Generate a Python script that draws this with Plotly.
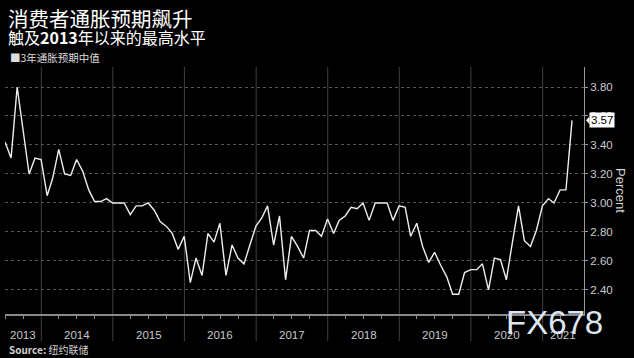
import pandas as pd
import plotly.graph_objects as go

# ---------------- data ----------------
start_month = "2013-06-30"   # first survey month (month-end)
expectations = [
    3.42, 3.31, 3.80, 3.51, 3.20, 3.31, 3.30,            # 2013 Jun-Dec
    3.05, 3.17, 3.37, 3.20, 3.19, 3.30, 3.22, 3.09, 3.01, 3.01, 3.03, 3.00,  # 2014
    3.00, 3.00, 2.92, 2.98, 2.98, 3.00, 2.95, 2.87, 2.84, 2.79, 2.68, 2.77,  # 2015
    2.45, 2.62, 2.50, 2.79, 2.73, 2.86, 2.50, 2.71, 2.62, 2.58, 2.71, 2.84,  # 2016
    2.90, 2.98, 2.71, 2.91, 2.47, 2.77, 2.70, 2.62, 2.81, 2.81, 2.77, 2.89,  # 2017
    2.79, 2.88, 2.91, 2.97, 2.96, 3.00, 2.88, 3.00, 3.00, 3.00, 2.88, 2.98,  # 2018
    2.97, 2.77, 2.86, 2.70, 2.59, 2.66, 2.57, 2.49, 2.37, 2.37, 2.52, 2.54,  # 2019
    2.54, 2.58, 2.40, 2.62, 2.61, 2.47, 2.73, 2.98, 2.74, 2.70, 2.81, 2.98,  # 2020
    3.03, 3.00, 3.09, 3.09, 3.57,                                            # 2021 Jan-May
]
years = [2013, 2014, 2015, 2016, 2017, 2018, 2019, 2020, 2021]
y_ticks = [2.40, 2.60, 2.80, 3.00, 3.20, 3.40, 3.60, 3.80]
last_label = "3.57"

title_1 = "消费者通胀预期飙升"
title_2 = "触及<b>2013</b>年以来的最高水平"
legend_text = "■3年通胀预期中值"
source_text = "<b>Source:</b> 纽约联储"
y_title = "Percent"
watermark = "FX678"

# ---------------- layout helpers ----------------
W, H = 634, 358
ML, MR, MT, MB = 5, 50, 67, 44
PW, PH = W - ML - MR, H - MT - MB

def px(xp):
    return (xp - ML) / PW

def py(yp):
    return (H - MB - yp) / PH

dates = pd.date_range(start_month, periods=len(expectations), freq="ME")
x_start = pd.Timestamp(start_month)
x_end = pd.Timestamp("2021-07-31")
y_range = [2.234, 3.938]

CJK = "Noto Sans CJK SC"
NUM = "Liberation Sans, Noto Sans CJK SC"

fig = go.Figure()
fig.add_trace(go.Scatter(
    x=dates, y=expectations, mode="lines",
    line=dict(color="#eeeeee", width=1.4),
    showlegend=False, hoverinfo="x+y",
))

shapes = []
annotations = []

# year separators
for yr in years[1:]:
    shapes.append(dict(type="line", xref="x", yref="paper",
                       x0=pd.Timestamp(f"{yr}-01-01"), x1=pd.Timestamp(f"{yr}-01-01"),
                       y0=py(341), y1=1, line=dict(color="#404040", width=1), layer="below"))

# year labels centred in visible part of each year
for yr in years:
    a = max(pd.Timestamp(f"{yr}-01-01"), x_start)
    b = min(pd.Timestamp(f"{yr + 1}-01-01"), x_end)
    mid = a + (b - a) / 2
    annotations.append(dict(xref="x", yref="paper", x=mid, y=py(335), text=str(yr),
                            showarrow=False, xanchor="center", yanchor="middle",
                            font=dict(family=NUM, size=11.5, color="#c8c8c8")))

# last value tag
last_val = expectations[-1]
shapes.append(dict(type="path", xref="paper", yref="y",
                   path=f"M 1.0035,{last_val} L 1.0095,{last_val + 0.027} L 1.0095,{last_val - 0.027} Z",
                   fillcolor="white", line=dict(width=0)))
annotations.append(dict(xref="paper", yref="y", x=1.009, y=last_val, text=last_label,
                        showarrow=False, xanchor="left", yanchor="middle",
                        bgcolor="white", borderpad=1,
                        font=dict(family=NUM, size=11.5, color="black")))

# axis title (rotated clockwise)
annotations.append(dict(xref="paper", yref="paper", x=px(621), y=py(190), text=y_title,
                        showarrow=False, textangle=90, xanchor="center", yanchor="middle",
                        font=dict(family=NUM, size=13, color="#d0d0d0")))

# titles
annotations.append(dict(xref="paper", yref="paper", x=px(6), y=py(18), text=title_1,
                        showarrow=False, xanchor="left", yanchor="middle",
                        font=dict(family=CJK, size=20.5, color="white")))
annotations.append(dict(xref="paper", yref="paper", x=px(6), y=py(37), text=title_2,
                        showarrow=False, xanchor="left", yanchor="middle",
                        font=dict(family=CJK, size=16, color="white")))
annotations.append(dict(xref="paper", yref="paper", x=px(8), y=py(57), text=legend_text,
                        showarrow=False, xanchor="left", yanchor="middle",
                        font=dict(family=CJK, size=10.5, color="#dddddd")))
annotations.append(dict(xref="paper", yref="paper", x=px(7), y=py(349), text=source_text,
                        showarrow=False, xanchor="left", yanchor="middle",
                        font=dict(family=CJK, size=10, color="#d0d0d0")))
annotations.append(dict(xref="paper", yref="paper", x=px(504), y=py(322), text=watermark,
                        showarrow=False, xanchor="left", yanchor="middle",
                        font=dict(family="Liberation Sans", size=33, color="#dde6f0")))

fig.update_layout(
    width=W, height=H,
    margin=dict(l=ML, r=MR, t=MT, b=MB, pad=0),
    paper_bgcolor="black", plot_bgcolor="black",
    xaxis=dict(range=[x_start, x_end], showgrid=False, zeroline=False,
               showticklabels=False, showline=True, linecolor="#8a8a8a", linewidth=1.5,
               ticks="",
               minor=dict(ticks="outside", ticklen=3, tickcolor="#8a8a8a",
                          dtick="M3", tick0="2013-01-01", showgrid=False)),
    yaxis=dict(side="right", range=y_range, tickvals=y_ticks, tickformat=".2f",
               showgrid=True, gridcolor="#555555", griddash="dot", gridwidth=1,
               zeroline=False, showline=True, linecolor="#9a9a9a", linewidth=1,
               ticks="outside", ticklen=3, tickcolor="#9a9a9a",
               tickfont=dict(family=NUM, size=11.5, color="#cccccc")),
    shapes=shapes, annotations=annotations,
)

fig.write_html("out.html", config={"displayModeBar": False},
               post_script="document.body.style.margin='0';document.body.style.background='black';")
